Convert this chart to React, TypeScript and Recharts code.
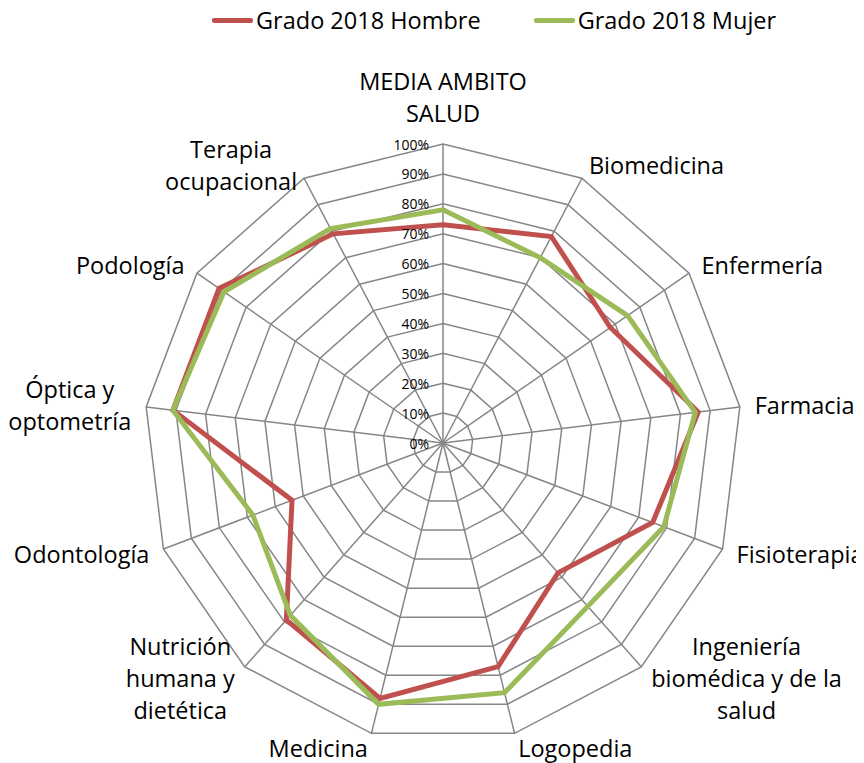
import {
  Legend,
  PolarAngleAxis,
  PolarGrid,
  PolarRadiusAxis,
  Radar,
  RadarChart,
} from 'recharts';

const categories = [
  'MEDIA AMBITO\nSALUD',
  'Biomedicina',
  'Enfermería',
  'Farmacia',
  'Fisioterapia',
  'Ingeniería\nbiomédica y de la\nsalud',
  'Logopedia',
  'Medicina',
  'Nutrición\nhumana y\ndietética',
  'Odontología',
  'Óptica y\noptometría',
  'Podología',
  'Terapia\nocupacional',
];

const hombre2018 = [73, 78, 68, 86, 75, 58, 77, 88, 79, 54, 91, 91, 79];
const mujer2018 = [78, 70, 75, 85, 79, 73, 86, 90, 77, 68, 91, 89, 81];

const percentTicks = [0, 10, 20, 30, 40, 50, 60, 70, 80, 90, 100];

const seriesNames = ['Grado 2018 Hombre', 'Grado 2018 Mujer'];
const seriesColors = ['#C0504D', '#9BBB59'];

const data = categories.map((name, i) => ({
  name,
  hombre: hombre2018[i],
  mujer: mujer2018[i],
}));

const FONT = '"Open Sans", sans-serif';
const LABEL_SIZE = 23.5;
const LINE_H = 32;

let ctx: CanvasRenderingContext2D | null = null;
function textWidth(s: string) {
  if (!ctx) ctx = document.createElement('canvas').getContext('2d');
  if (!ctx) return s.length * LABEL_SIZE * 0.55;
  ctx.font = `${LABEL_SIZE}px ${FONT}`;
  return ctx.measureText(s).width;
}

function AngleTick(props: any) {
  const { x, y, textAnchor, payload } = props;
  const lines = String(payload.value).split('\n');
  const bw = Math.max(...lines.map(textWidth));
  let mid = x;
  if (textAnchor === 'start') mid = x + bw / 2;
  else if (textAnchor === 'end') mid = x - bw / 2;
  const top =
    textAnchor === 'middle' ? y - lines.length * LINE_H : y - (lines.length * LINE_H) / 2;
  return (
    <g>
      {lines.map((l, i) => (
        <text
          key={i}
          x={mid}
          y={top + LINE_H * (i + 0.5)}
          textAnchor="middle"
          dominantBaseline="central"
          fontSize={LABEL_SIZE}
          fontFamily={FONT}
          fill="#000"
        >
          {l}
        </text>
      ))}
    </g>
  );
}

function RadiusTick(props: any) {
  const { x, y, payload } = props;
  return (
    <text
      x={x - 14}
      y={y}
      textAnchor="end"
      dominantBaseline="central"
      fontSize={14}
      fontFamily={FONT}
      fill="#000"
    >
      {`${payload.value}%`}
    </text>
  );
}

function LegendContent() {
  return (
    <div style={{ display: 'flex', gap: 53, fontFamily: FONT, fontSize: LABEL_SIZE }}>
      {seriesNames.map((n, i) => (
        <div key={n} style={{ display: 'flex', alignItems: 'center', lineHeight: '24px' }}>
          <span
            style={{
              display: 'inline-block',
              width: 41,
              height: 5,
              borderRadius: 2,
              background: seriesColors[i],
              marginRight: 3,
            }}
          />
          <span>{n}</span>
        </div>
      ))}
    </div>
  );
}

export default function App() {
  return (
    <RadarChart
      width={856}
      height={755}
      data={data}
      cx={435}
      cy={435}
      outerRadius={299}
      margin={{ top: 0, right: 0, bottom: 0, left: 0 }}
    >
      <PolarGrid gridType="polygon" stroke="#868686" strokeWidth={1.5} />
      <PolarAngleAxis
        dataKey="name"
        tick={AngleTick}
        tickLine={false}
        axisLine={false}
        tickSize={15}
      />
      <PolarRadiusAxis
        angle={90}
        domain={[0, 100]}
        ticks={percentTicks}
        tickCount={11}
        tick={RadiusTick}
        axisLine={false}
        tickLine={false}
        orientation="left"
      />
      <Radar
        name={seriesNames[0]}
        dataKey="hombre"
        stroke={seriesColors[0]}
        strokeWidth={5}
        fill="none"
        fillOpacity={0}
        dot={false}
        isAnimationActive={false}
      />
      <Radar
        name={seriesNames[1]}
        dataKey="mujer"
        stroke={seriesColors[1]}
        strokeWidth={5}
        fill="none"
        fillOpacity={0}
        dot={false}
        isAnimationActive={false}
      />
      <Legend
        verticalAlign="top"
        content={LegendContent}
        wrapperStyle={{ top: 0, left: 204, width: 'auto' }}
      />
    </RadarChart>
  );
}
